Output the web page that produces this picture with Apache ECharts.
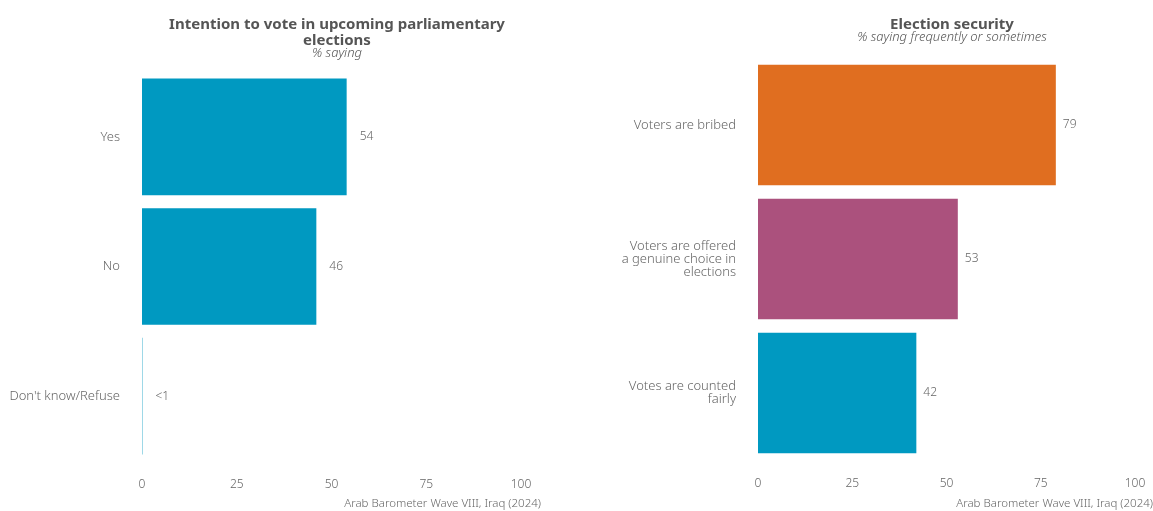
<!DOCTYPE html>
<html>
<head>
<meta charset="utf-8">
<script src="https://cdn.jsdelivr.net/npm/echarts@6/dist/echarts.min.js"></script>
<style>
  html, body { margin: 0; padding: 0; background: #fff; }
  #chart { width: 1153px; height: 511px; }
</style>
</head>
<body>
<div id="chart"></div>
<script>
// Intention to vote
const voteCategories = ['Yes', 'No', "Don't know/Refuse"];
const voteValues = [54, 46, 0.1];
const voteColor = '#0099c1';

// Election security
const securityCategories = ['Voters are bribed', 'Voters are offered\na genuine choice in\nelections', 'Votes are counted\nfairly'];
const securityValues = [79, 53, 42];
const securityColors = ['#e06e20', '#ab517d', '#0099c1'];

const xTicks = [0, 25, 50, 75, 100];
const sourceText = 'Arab Barometer Wave VIII, Iraq (2024)';

const FONT = '"Noto Sans", sans-serif';
const GREY = '#666';

function valueLabel(v) {
  return v < 1 ? '<1' : String(Math.round(v));
}

function xAxis(gridIndex) {
  return {
    gridIndex,
    type: 'value',
    min: 0,
    max: 100,
    interval: 25,
    axisLine: { show: false },
    axisTick: { show: false },
    splitLine: { show: false },
    axisLabel: {
      color: GREY, fontFamily: FONT, fontSize: 12, fontWeight: 300, margin: 18,
      formatter: v => xTicks.includes(v) ? String(v) : ''
    }
  };
}

function yAxis(gridIndex, cats) {
  return {
    gridIndex,
    type: 'category',
    data: cats,
    inverse: true,
    axisLine: { show: false },
    axisTick: { show: false },
    axisLabel: {
      color: GREY, fontFamily: FONT, fontSize: 13, fontWeight: 300, margin: 22,
      lineHeight: 13, align: 'right'
    }
  };
}

const titleStyle = { fontFamily: FONT, fontSize: 15, fontWeight: 'bold', color: '#555', lineHeight: 16 };
const subStyle = { fontFamily: FONT, fontSize: 13, fontStyle: 'italic', fontWeight: 300, color: '#555', lineHeight: 13 };

const chart = echarts.init(document.getElementById('chart'));
chart.setOption({
  animation: false,
  backgroundColor: '#fff',
  title: [
    {
      text: 'Intention to vote in upcoming parliamentary\nelections',
      subtext: '% saying',
      left: 332, top: 12, textAlign: 'center',
      itemGap: -2,
      textStyle: titleStyle,
      subtextStyle: subStyle
    },
    {
      text: 'Election security',
      subtext: '% saying frequently or sometimes',
      left: 947, top: 12, textAlign: 'center',
      itemGap: -2,
      textStyle: titleStyle,
      subtextStyle: subStyle
    }
  ],
  graphic: [
    {
      type: 'text', right: 1153 - 541, top: 498,
      style: { text: sourceText, fill: GREY, font: '300 11.5px ' + FONT, align: 'right' }
    },
    {
      type: 'text', right: 0, top: 498,
      style: { text: sourceText, fill: GREY, font: '300 11.5px ' + FONT, align: 'right' }
    }
  ],
  grid: [
    { left: 142, right: 1153 - 521, top: 72, bottom: 50 },
    { left: 758, right: 1153 - 1135, top: 58, bottom: 51 }
  ],
  xAxis: [xAxis(0), xAxis(1)],
  yAxis: [yAxis(0, voteCategories), yAxis(1, securityCategories)],
  series: [
    {
      type: 'bar',
      xAxisIndex: 0, yAxisIndex: 0,
      data: voteValues,
      barCategoryGap: '10%',
      itemStyle: { color: voteColor },
      label: {
        show: true, position: 'right', distance: 13,
        color: GREY, fontFamily: FONT, fontSize: 12, fontWeight: 300,
        formatter: p => valueLabel(p.value)
      }
    },
    {
      type: 'bar',
      xAxisIndex: 1, yAxisIndex: 1,
      data: securityValues.map((v, i) => ({ value: v, itemStyle: { color: securityColors[i] } })),
      barCategoryGap: '10%',
      label: {
        show: true, position: 'right', distance: 7,
        color: GREY, fontFamily: FONT, fontSize: 12, fontWeight: 300,
        formatter: p => valueLabel(p.value)
      }
    }
  ]
});
</script>
</body>
</html>
